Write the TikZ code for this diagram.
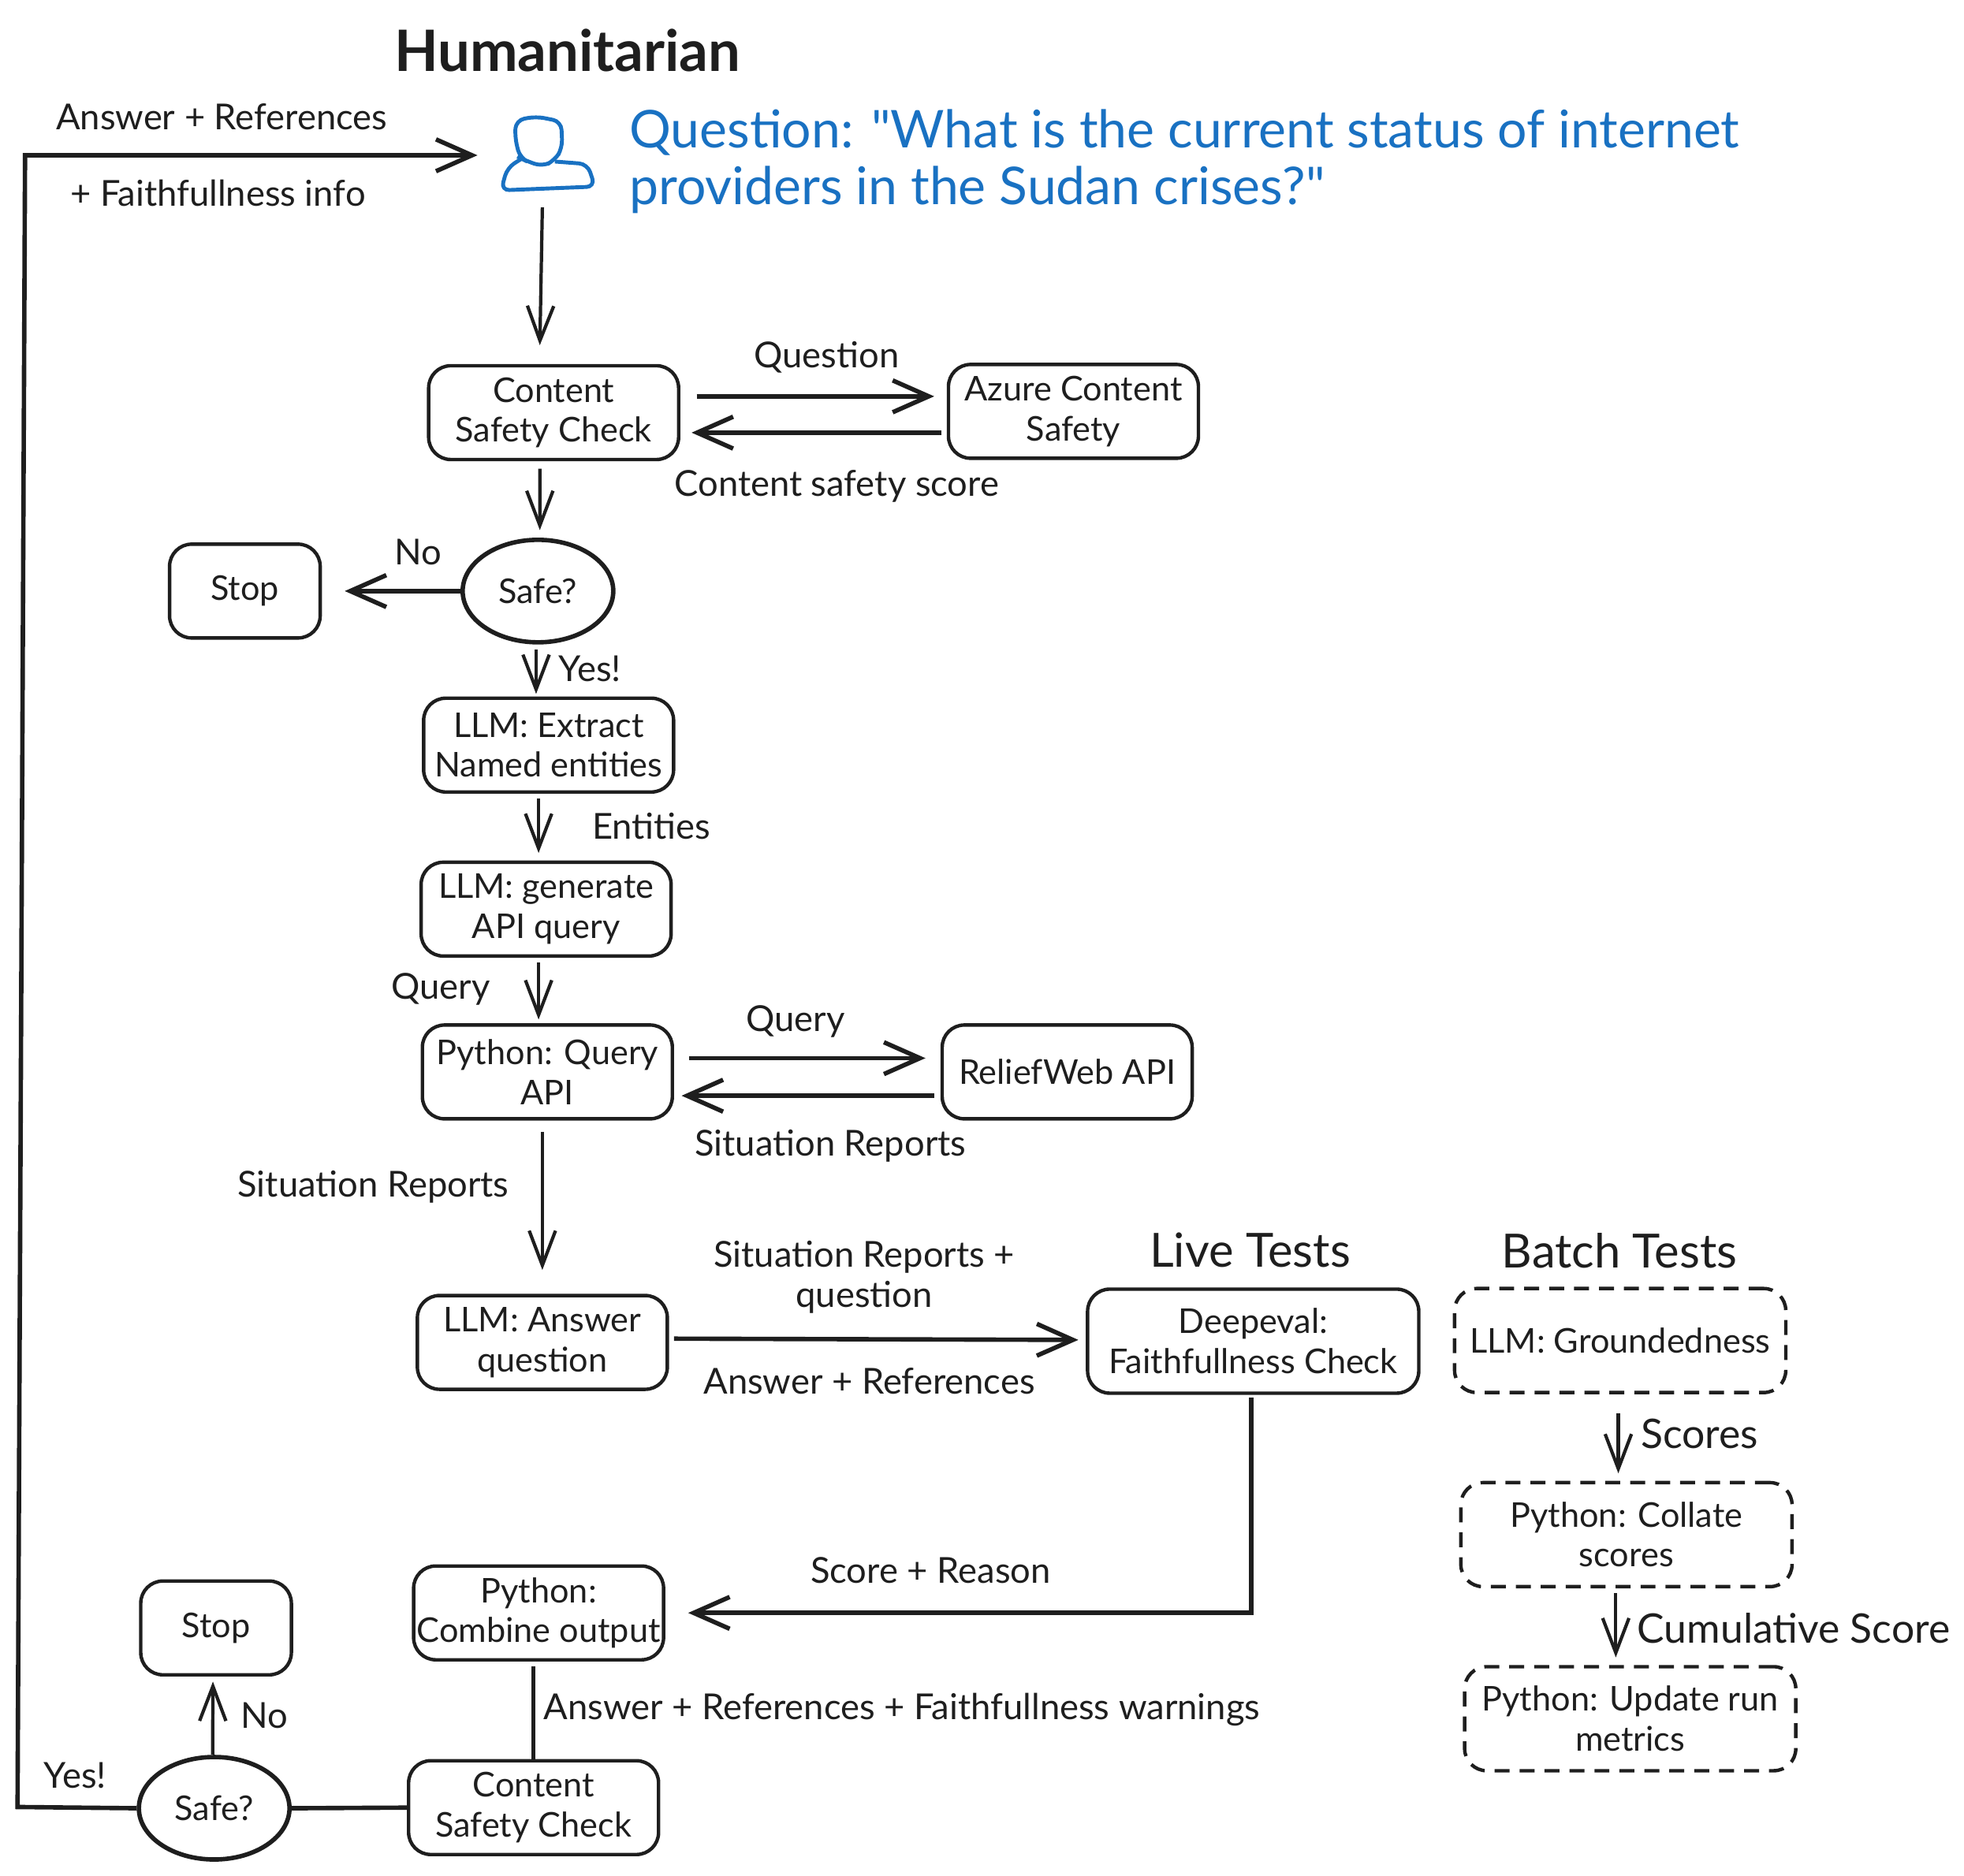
\documentclass[tikz,border=0pt]{standalone}
\usepackage{fontspec}
\setmainfont{Lato}
\newfontfamily\askfont{Lato}
\usetikzlibrary{arrows.meta, positioning, shapes.geometric}
\definecolor{ink}{HTML}{1E1E1E}
\definecolor{askblue}{HTML}{1971C2}

\begin{document}
\begin{tikzpicture}[
    x=0.01589cm, y=-0.01589cm,
    every node/.style={text=ink, font=\fontsize{12.3}{14.4}\selectfont, align=center, inner sep=0pt},
    box/.style={rectangle, draw=ink, line width=1.25pt, rounded corners=8pt, minimum width=3.17cm, minimum height=1.19cm},
    stopbox/.style={box, minimum width=1.91cm},
    widebox/.style={box, minimum width=4.2cm, minimum height=1.32cm},
    dashbox/.style={widebox, dash pattern=on 5.4pt off 3.6pt},
    decision/.style={ellipse, draw=ink, line width=1.6pt, minimum width=1.91cm, minimum height=1.3cm},
    flowlabel/.style={font=\fontsize{12.9}{14.4}\selectfont},
    bigtext/.style={font=\fontsize{14.7}{17}\selectfont},
    headtext/.style={font=\fontsize{17}{19}\selectfont},
    link/.style={draw=ink, line width=1.2pt},
    longarrow/.style={link, -{Straight Barb[length=12.5pt,width=9.5pt]}},
    widearrow/.style={link, line width=1.6pt, -{Straight Barb[length=13pt,width=11.5pt]}}
]
\useasboundingbox (0,0) rectangle (1568,1497.5);

% Title and question
\node[font=\fontsize{20.6}{23}\selectfont\bfseries] (title) at (453,40) {Humanitarian};
\node[anchor=west, align=left, text=askblue, font=\askfont\fontsize{18.8}{20.4}\selectfont] (question) at (502,129)
  {Question: "What is the current status of internet\\providers in the Sudan crises?"};
\node[minimum width=1.21cm, minimum height=0.96cm] (user) at (438,123) {};
\draw[askblue, line width=1.4pt, rounded corners=3pt]
  (415,126) -- (411,109) -- (412,96) -- (428,93) -- (448,97) -- (449,118) -- (443,128) -- (433,133) -- (419,128) -- cycle;
\draw[askblue, line width=1.4pt, rounded corners=3pt]
  (416,127) -- (405,134) -- (400,152) -- (475,149) -- (469,131) -- (443,129);

% Upper flow
\node[box] (check1) at (442,329.5) {Content\\Safety Check};
\node[box] (azure) at (857,328.5) {Azure Content\\Safety};
\node[decision] (safe1) at (429.5,472) {Safe?};
\node[stopbox] (stop1) at (195.5,472) {Stop};
\node[box] (extract) at (438,595) {LLM: Extract\\Named entities};
\node[box] (generate) at (436,726) {LLM: generate\\API query};
\node[box] (pyquery) at (437,856) {Python: Query\\API};
\node[box] (reliefweb) at (852,856) {ReliefWeb API};
\node[box] (answer) at (433,1072) {LLM: Answer\\question};

% Tests
\node[widebox] (deepeval) at (1000.5,1071) {Deepeval:\\Faithfullness Check};
\node[dashbox] (ground) at (1293.5,1070.5) {LLM: Groundedness};
\node[dashbox] (collate) at (1298.5,1225.5) {Python: Collate\\scores};
\node[dashbox] (update) at (1301.5,1372.5) {Python: Update run\\metrics};
\node[headtext] (livetests) at (998,998) {Live Tests};
\node[headtext] (batchtests) at (1293,999) {Batch Tests};

% Lower flow
\node[box] (combine) at (430,1288) {Python:\\Combine output};
\node[box] (check2) at (426,1443.5) {Content\\Safety Check};
\node[decision] (safe2) at (171,1444) {Safe?};
\node[stopbox] (stop2) at (172.5,1300) {Stop};

% Corners of the way back
\coordinate (backlow) at (14,1443);
\coordinate (backup) at (20,124);

% Arrows
\draw[widearrow] (safe2.west) -- (backlow) -- (backup) -- ([xshift=-0.29cm]user.west |- backup);
\draw[longarrow] ([shift={(-5,12)}]user.south) -- ([shift={(-11,-15)}]check1.north);
\draw[widearrow] ([shift={(13,-13)}]check1.east) -- ([shift={(-10,-12)}]azure.west);
\draw[widearrow] ([shift={(-4,17)}]azure.west) -- ([shift={(9,16)}]check1.east);
\draw[longarrow] ([shift={(-11,6)}]check1.south) -- ([shift={(1.5,-6)}]safe1.north);
\draw[widearrow] (safe1.west) -- ([xshift=0.29cm]stop1.east);
\draw[longarrow] ([shift={(-1.5,4)}]safe1.south) -- ([shift={(-10,-2)}]extract.north);
\draw[longarrow] ([shift={(-8,4)}]extract.south) -- ([shift={(-6,-6)}]generate.north);
\draw[longarrow] ([shift={(-6,4)}]generate.south) -- ([shift={(-7,-3)}]pyquery.north);
\draw[widearrow] ([shift={(12,-11)}]pyquery.east) -- ([shift={(-12,-11)}]reliefweb.west);
\draw[widearrow] ([shift={(-5,19)}]reliefweb.west) -- ([shift={(6,19)}]pyquery.east);
\draw[longarrow] ([shift={(-4,9)}]pyquery.south) -- ([shift={(0,-19)}]answer.north);
\draw[widearrow] ([shift={(4,-3)}]answer.east) -- ([shift={(-6,-1)}]deepeval.west);
\draw[widearrow] ([shift={(-1.5,2)}]deepeval.south) |- ([xshift=0.29cm]combine.east);
\draw[link, line width=1.5pt] ([shift={(-4,4)}]combine.south) -- (check2.north);
\draw[link, line width=1.6pt] (check2.west) -- (safe2.east);
\draw[longarrow] ([xshift=-0.02cm]safe2.north) -- ([shift={(-2.5,4)}]stop2.south);
\draw[longarrow] ([shift={(-1.5,15)}]ground.south) -- ([shift={(-6.5,-6)}]collate.north);
\draw[longarrow] ([shift={(-8.5,4)}]collate.south) -- ([shift={(-11.5,-6)}]update.north);

% Labels
\node[flowlabel] (backtop) at (177,93) {Answer + References};
\node[flowlabel] (backbottom) at (174,154) {+ Faithfullness info};
\node[flowlabel] (askcheck) at (660,285) {Question};
\node[flowlabel] (scorecheck) at (668,388) {Content safety score};
\node[flowlabel] (no1) at (334,441) {No};
\node[flowlabel] (yes1) at (471,534) {Yes!};
\node[flowlabel] (entities) at (520,660) {Entities};
\node[flowlabel] (query1) at (352,790) {Query};
\node[flowlabel] (query2) at (635,816) {Query};
\node[flowlabel] (reports1) at (663,915) {Situation Reports};
\node[flowlabel] (reports2) at (298,948) {Situation Reports};
\node[flowlabel] (reports3) at (690,1020) {Situation Reports +\\question};
\node[flowlabel] (answerrefs) at (694,1103) {Answer + References};
\node[bigtext] (scores) at (1357,1145) {Scores};
\node[bigtext] (cumulative) at (1432,1300) {Cumulative Score};
\node[flowlabel] (reason) at (743,1254) {Score + Reason};
\node[flowlabel] (warnings) at (720,1365) {Answer + References + Faithfullness warnings};
\node[flowlabel] (no2) at (211,1370) {No};
\node[flowlabel] (yes2) at (60,1418) {Yes!};

\end{tikzpicture}
\end{document}
